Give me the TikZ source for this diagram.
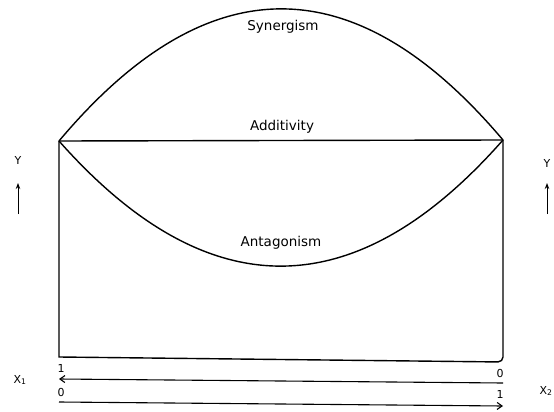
\documentclass[tikz,border=0pt]{standalone}
\usepackage{fontspec}
\setmainfont{DejaVu Sans}
\usetikzlibrary{arrows.meta}
\begin{document}
\begin{tikzpicture}[x=1pt,y=-1pt,
  curve/.style={line width=1.4pt},
  biglabel/.style={font=\fontsize{13.5}{14}\selectfont, inner sep=0pt},
  smalllabel/.style={font=\fontsize{11}{12}\selectfont, inner sep=0pt},
  axisarrow/.style={line width=1pt,-{Stealth[length=6pt,width=4.5pt]}},
  scalearrow/.style={line width=1.1pt,-{Straight Barb[length=5pt,width=7pt]}}]
\useasboundingbox (0,0) rectangle (554,412);
% corners
\coordinate (TL) at (59,141);
\coordinate (TR) at (503,140);
\coordinate (BL) at (59,357);
\coordinate (BR) at (503,362);
% box
\draw[curve] (TL) -- (BL) [rounded corners=5pt] -- (BR) -- (TR);
% additivity line
\draw[curve] (TL) -- (TR);
% synergism
\draw[curve] (TL) .. controls (207,-35) and (355,-35) .. (TR);
% antagonism
\draw[curve] (TL) .. controls (207,308) and (355,308) .. (TR);
% labels
\node[biglabel] (syn) at (283,27) {Synergism};
\node[biglabel] (add) at (282,127) {Additivity};
\node[biglabel] (ant) at (281,243) {Antagonism};
% Y axes
\node[smalllabel] (yl) at (18,160) {Y};
\node[smalllabel] (yr) at (547,163) {Y};
\coordinate (yla) at (18,214);
\coordinate (ylb) at (18,183);
\coordinate (yra) at (547,214);
\coordinate (yrb) at (547,183);
\draw[axisarrow] (yla) -- (ylb);
\draw[axisarrow] (yra) -- (yrb);
% X scales
\node[smalllabel] (x1) at (20,380) {X\textsubscript{1}};
\node[smalllabel] (x2) at (546,391) {X\textsubscript{2}};
\node[smalllabel] (l1) at (61,368) {1};
\node[smalllabel] (l0) at (61,392) {0};
\node[smalllabel] (r0) at (500,373) {0};
\node[smalllabel] (r1) at (500,394) {1};
\coordinate (a1s) at (503,383);
\coordinate (a1e) at (59,379);
\coordinate (a2s) at (59,402);
\coordinate (a2e) at (503,406);
\draw[scalearrow] (a1s) -- (a1e);
\draw[scalearrow] (a2s) -- (a2e);
\end{tikzpicture}
\end{document}
